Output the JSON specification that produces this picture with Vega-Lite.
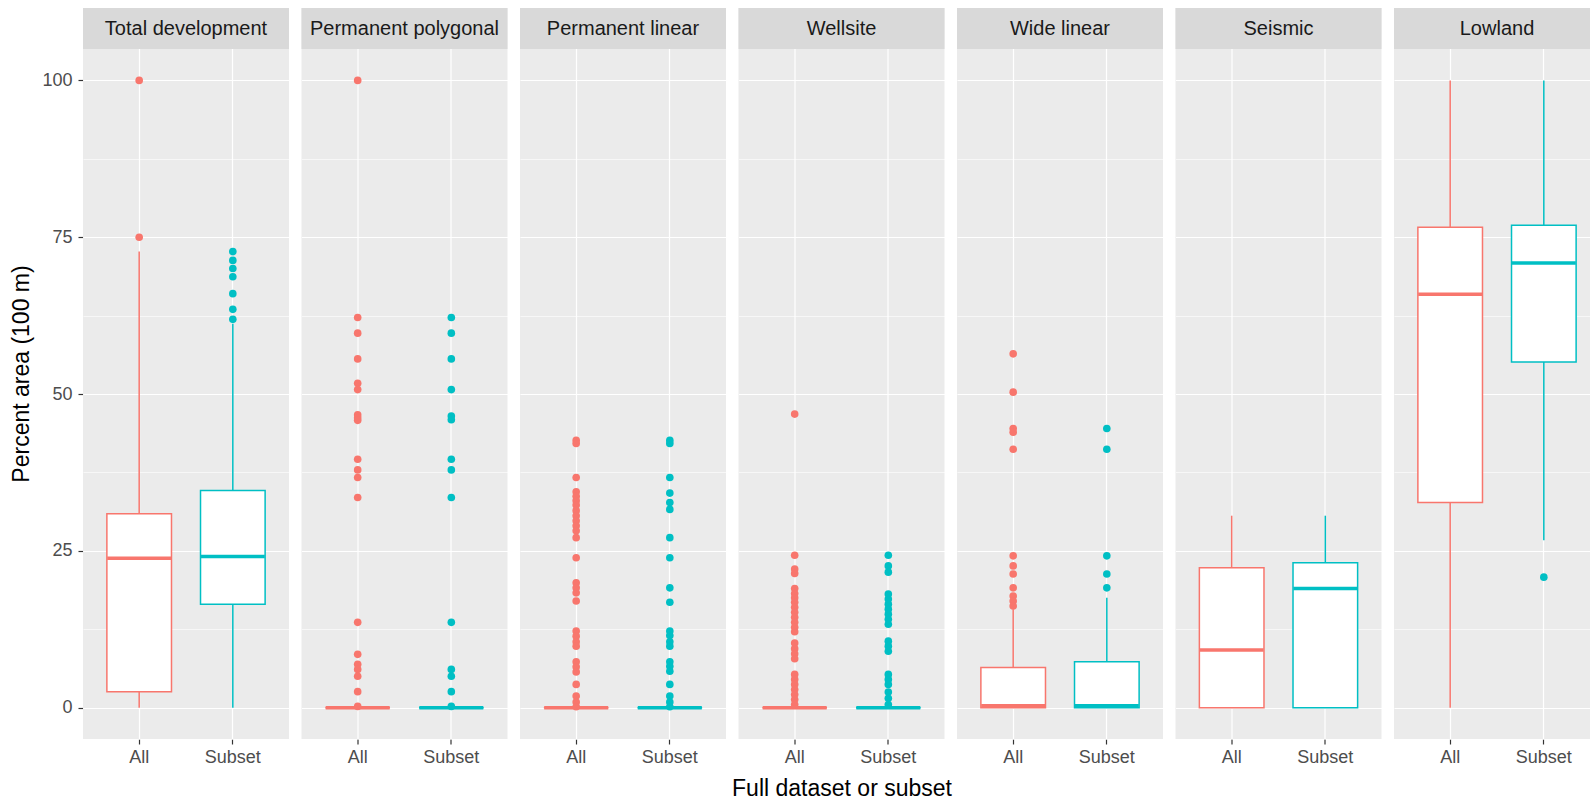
{
  "$schema": "https://vega.github.io/schema/vega-lite/v6.json",
  "padding": {"left": 10, "top": 8, "right": -10, "bottom": 0},
  "background": "white",
  "datasets": {
    "rows": [
      {"panel": "Total development", "group": "All", "kind": "box", "lo": 0, "q1": 2.55, "med": 23.8, "q3": 30.9, "hi": 72.7},
      {"panel": "Total development", "group": "Subset", "kind": "box", "lo": 0, "q1": 16.5, "med": 24.1, "q3": 34.6, "hi": 61.2},
      {"panel": "Permanent polygonal", "group": "All", "kind": "box", "lo": 0, "q1": 0, "med": 0, "q3": 0, "hi": 0},
      {"panel": "Permanent polygonal", "group": "Subset", "kind": "box", "lo": 0, "q1": 0, "med": 0, "q3": 0, "hi": 0},
      {"panel": "Permanent linear", "group": "All", "kind": "box", "lo": 0, "q1": 0, "med": 0, "q3": 0, "hi": 0},
      {"panel": "Permanent linear", "group": "Subset", "kind": "box", "lo": 0, "q1": 0, "med": 0, "q3": 0, "hi": 0},
      {"panel": "Wellsite", "group": "All", "kind": "box", "lo": 0, "q1": 0, "med": 0, "q3": 0, "hi": 0},
      {"panel": "Wellsite", "group": "Subset", "kind": "box", "lo": 0, "q1": 0, "med": 0, "q3": 0, "hi": 0},
      {"panel": "Wide linear", "group": "All", "kind": "box", "lo": 0, "q1": 0, "med": 0.3, "q3": 6.4, "hi": 15.7},
      {"panel": "Wide linear", "group": "Subset", "kind": "box", "lo": 0, "q1": 0, "med": 0.3, "q3": 7.3, "hi": 17.5},
      {"panel": "Seismic", "group": "All", "kind": "box", "lo": 0, "q1": 0, "med": 9.2, "q3": 22.3, "hi": 30.6},
      {"panel": "Seismic", "group": "Subset", "kind": "box", "lo": 0, "q1": 0, "med": 19.0, "q3": 23.1, "hi": 30.6},
      {"panel": "Lowland", "group": "All", "kind": "box", "lo": 0, "q1": 32.7, "med": 65.9, "q3": 76.6, "hi": 100},
      {"panel": "Lowland", "group": "Subset", "kind": "box", "lo": 26.7, "q1": 55.1, "med": 70.9, "q3": 76.9, "hi": 100},

      {"panel": "Total development", "group": "All", "kind": "out", "v": 100},
      {"panel": "Total development", "group": "All", "kind": "out", "v": 75.0},
      {"panel": "Total development", "group": "Subset", "kind": "out", "v": 72.7},
      {"panel": "Total development", "group": "Subset", "kind": "out", "v": 71.3},
      {"panel": "Total development", "group": "Subset", "kind": "out", "v": 70.0},
      {"panel": "Total development", "group": "Subset", "kind": "out", "v": 68.7},
      {"panel": "Total development", "group": "Subset", "kind": "out", "v": 66.0},
      {"panel": "Total development", "group": "Subset", "kind": "out", "v": 63.5},
      {"panel": "Total development", "group": "Subset", "kind": "out", "v": 61.9},

      {"panel": "Permanent polygonal", "group": "All", "kind": "out", "v": 100},
      {"panel": "Permanent polygonal", "group": "All", "kind": "out", "v": 62.2},
      {"panel": "Permanent polygonal", "group": "All", "kind": "out", "v": 59.7},
      {"panel": "Permanent polygonal", "group": "All", "kind": "out", "v": 55.6},
      {"panel": "Permanent polygonal", "group": "All", "kind": "out", "v": 51.7},
      {"panel": "Permanent polygonal", "group": "All", "kind": "out", "v": 50.7},
      {"panel": "Permanent polygonal", "group": "All", "kind": "out", "v": 46.7},
      {"panel": "Permanent polygonal", "group": "All", "kind": "out", "v": 46.2},
      {"panel": "Permanent polygonal", "group": "All", "kind": "out", "v": 45.8},
      {"panel": "Permanent polygonal", "group": "All", "kind": "out", "v": 39.6},
      {"panel": "Permanent polygonal", "group": "All", "kind": "out", "v": 37.9},
      {"panel": "Permanent polygonal", "group": "All", "kind": "out", "v": 36.7},
      {"panel": "Permanent polygonal", "group": "All", "kind": "out", "v": 33.5},
      {"panel": "Permanent polygonal", "group": "All", "kind": "out", "v": 13.6},
      {"panel": "Permanent polygonal", "group": "All", "kind": "out", "v": 8.5},
      {"panel": "Permanent polygonal", "group": "All", "kind": "out", "v": 6.9},
      {"panel": "Permanent polygonal", "group": "All", "kind": "out", "v": 6.1},
      {"panel": "Permanent polygonal", "group": "All", "kind": "out", "v": 5.0},
      {"panel": "Permanent polygonal", "group": "All", "kind": "out", "v": 2.55},
      {"panel": "Permanent polygonal", "group": "All", "kind": "out", "v": 0.2},
      {"panel": "Permanent polygonal", "group": "Subset", "kind": "out", "v": 62.2},
      {"panel": "Permanent polygonal", "group": "Subset", "kind": "out", "v": 59.7},
      {"panel": "Permanent polygonal", "group": "Subset", "kind": "out", "v": 55.6},
      {"panel": "Permanent polygonal", "group": "Subset", "kind": "out", "v": 50.7},
      {"panel": "Permanent polygonal", "group": "Subset", "kind": "out", "v": 46.5},
      {"panel": "Permanent polygonal", "group": "Subset", "kind": "out", "v": 45.9},
      {"panel": "Permanent polygonal", "group": "Subset", "kind": "out", "v": 39.6},
      {"panel": "Permanent polygonal", "group": "Subset", "kind": "out", "v": 37.9},
      {"panel": "Permanent polygonal", "group": "Subset", "kind": "out", "v": 33.5},
      {"panel": "Permanent polygonal", "group": "Subset", "kind": "out", "v": 13.6},
      {"panel": "Permanent polygonal", "group": "Subset", "kind": "out", "v": 6.1},
      {"panel": "Permanent polygonal", "group": "Subset", "kind": "out", "v": 5.0},
      {"panel": "Permanent polygonal", "group": "Subset", "kind": "out", "v": 2.55},
      {"panel": "Permanent polygonal", "group": "Subset", "kind": "out", "v": 0.2},

      {"panel": "Permanent linear", "group": "All", "kind": "out", "v": 42.6},
      {"panel": "Permanent linear", "group": "All", "kind": "out", "v": 42.1},
      {"panel": "Permanent linear", "group": "All", "kind": "out", "v": 36.7},
      {"panel": "Permanent linear", "group": "All", "kind": "out", "v": 34.4},
      {"panel": "Permanent linear", "group": "All", "kind": "out", "v": 33.7},
      {"panel": "Permanent linear", "group": "All", "kind": "out", "v": 33.0},
      {"panel": "Permanent linear", "group": "All", "kind": "out", "v": 32.3},
      {"panel": "Permanent linear", "group": "All", "kind": "out", "v": 31.4},
      {"panel": "Permanent linear", "group": "All", "kind": "out", "v": 30.6},
      {"panel": "Permanent linear", "group": "All", "kind": "out", "v": 29.8},
      {"panel": "Permanent linear", "group": "All", "kind": "out", "v": 29.0},
      {"panel": "Permanent linear", "group": "All", "kind": "out", "v": 28.2},
      {"panel": "Permanent linear", "group": "All", "kind": "out", "v": 27.1},
      {"panel": "Permanent linear", "group": "All", "kind": "out", "v": 23.9},
      {"panel": "Permanent linear", "group": "All", "kind": "out", "v": 19.9},
      {"panel": "Permanent linear", "group": "All", "kind": "out", "v": 19.1},
      {"panel": "Permanent linear", "group": "All", "kind": "out", "v": 18.3},
      {"panel": "Permanent linear", "group": "All", "kind": "out", "v": 17.0},
      {"panel": "Permanent linear", "group": "All", "kind": "out", "v": 12.2},
      {"panel": "Permanent linear", "group": "All", "kind": "out", "v": 11.4},
      {"panel": "Permanent linear", "group": "All", "kind": "out", "v": 10.5},
      {"panel": "Permanent linear", "group": "All", "kind": "out", "v": 9.8},
      {"panel": "Permanent linear", "group": "All", "kind": "out", "v": 7.3},
      {"panel": "Permanent linear", "group": "All", "kind": "out", "v": 6.5},
      {"panel": "Permanent linear", "group": "All", "kind": "out", "v": 5.7},
      {"panel": "Permanent linear", "group": "All", "kind": "out", "v": 3.7},
      {"panel": "Permanent linear", "group": "All", "kind": "out", "v": 1.85},
      {"panel": "Permanent linear", "group": "All", "kind": "out", "v": 0.9},
      {"panel": "Permanent linear", "group": "All", "kind": "out", "v": 0.15},
      {"panel": "Permanent linear", "group": "Subset", "kind": "out", "v": 42.6},
      {"panel": "Permanent linear", "group": "Subset", "kind": "out", "v": 42.1},
      {"panel": "Permanent linear", "group": "Subset", "kind": "out", "v": 36.7},
      {"panel": "Permanent linear", "group": "Subset", "kind": "out", "v": 34.2},
      {"panel": "Permanent linear", "group": "Subset", "kind": "out", "v": 32.7},
      {"panel": "Permanent linear", "group": "Subset", "kind": "out", "v": 31.6},
      {"panel": "Permanent linear", "group": "Subset", "kind": "out", "v": 27.1},
      {"panel": "Permanent linear", "group": "Subset", "kind": "out", "v": 23.9},
      {"panel": "Permanent linear", "group": "Subset", "kind": "out", "v": 19.1},
      {"panel": "Permanent linear", "group": "Subset", "kind": "out", "v": 16.8},
      {"panel": "Permanent linear", "group": "Subset", "kind": "out", "v": 12.2},
      {"panel": "Permanent linear", "group": "Subset", "kind": "out", "v": 11.5},
      {"panel": "Permanent linear", "group": "Subset", "kind": "out", "v": 10.5},
      {"panel": "Permanent linear", "group": "Subset", "kind": "out", "v": 9.8},
      {"panel": "Permanent linear", "group": "Subset", "kind": "out", "v": 7.3},
      {"panel": "Permanent linear", "group": "Subset", "kind": "out", "v": 6.6},
      {"panel": "Permanent linear", "group": "Subset", "kind": "out", "v": 5.8},
      {"panel": "Permanent linear", "group": "Subset", "kind": "out", "v": 3.7},
      {"panel": "Permanent linear", "group": "Subset", "kind": "out", "v": 1.85},
      {"panel": "Permanent linear", "group": "Subset", "kind": "out", "v": 0.9},
      {"panel": "Permanent linear", "group": "Subset", "kind": "out", "v": 0.15},

      {"panel": "Wellsite", "group": "All", "kind": "out", "v": 46.8},
      {"panel": "Wellsite", "group": "All", "kind": "out", "v": 24.3},
      {"panel": "Wellsite", "group": "All", "kind": "out", "v": 22.1},
      {"panel": "Wellsite", "group": "All", "kind": "out", "v": 21.4},
      {"panel": "Wellsite", "group": "All", "kind": "out", "v": 19.0},
      {"panel": "Wellsite", "group": "All", "kind": "out", "v": 18.2},
      {"panel": "Wellsite", "group": "All", "kind": "out", "v": 17.5},
      {"panel": "Wellsite", "group": "All", "kind": "out", "v": 16.8},
      {"panel": "Wellsite", "group": "All", "kind": "out", "v": 16.0},
      {"panel": "Wellsite", "group": "All", "kind": "out", "v": 15.2},
      {"panel": "Wellsite", "group": "All", "kind": "out", "v": 14.4},
      {"panel": "Wellsite", "group": "All", "kind": "out", "v": 13.6},
      {"panel": "Wellsite", "group": "All", "kind": "out", "v": 12.8},
      {"panel": "Wellsite", "group": "All", "kind": "out", "v": 12.1},
      {"panel": "Wellsite", "group": "All", "kind": "out", "v": 10.3},
      {"panel": "Wellsite", "group": "All", "kind": "out", "v": 9.4},
      {"panel": "Wellsite", "group": "All", "kind": "out", "v": 8.6},
      {"panel": "Wellsite", "group": "All", "kind": "out", "v": 7.8},
      {"panel": "Wellsite", "group": "All", "kind": "out", "v": 5.3},
      {"panel": "Wellsite", "group": "All", "kind": "out", "v": 4.5},
      {"panel": "Wellsite", "group": "All", "kind": "out", "v": 3.7},
      {"panel": "Wellsite", "group": "All", "kind": "out", "v": 2.9},
      {"panel": "Wellsite", "group": "All", "kind": "out", "v": 2.1},
      {"panel": "Wellsite", "group": "All", "kind": "out", "v": 1.3},
      {"panel": "Wellsite", "group": "All", "kind": "out", "v": 0.5},
      {"panel": "Wellsite", "group": "Subset", "kind": "out", "v": 24.3},
      {"panel": "Wellsite", "group": "Subset", "kind": "out", "v": 22.6},
      {"panel": "Wellsite", "group": "Subset", "kind": "out", "v": 21.6},
      {"panel": "Wellsite", "group": "Subset", "kind": "out", "v": 18.1},
      {"panel": "Wellsite", "group": "Subset", "kind": "out", "v": 17.3},
      {"panel": "Wellsite", "group": "Subset", "kind": "out", "v": 16.5},
      {"panel": "Wellsite", "group": "Subset", "kind": "out", "v": 15.7},
      {"panel": "Wellsite", "group": "Subset", "kind": "out", "v": 14.9},
      {"panel": "Wellsite", "group": "Subset", "kind": "out", "v": 14.1},
      {"panel": "Wellsite", "group": "Subset", "kind": "out", "v": 13.3},
      {"panel": "Wellsite", "group": "Subset", "kind": "out", "v": 10.6},
      {"panel": "Wellsite", "group": "Subset", "kind": "out", "v": 9.8},
      {"panel": "Wellsite", "group": "Subset", "kind": "out", "v": 9.0},
      {"panel": "Wellsite", "group": "Subset", "kind": "out", "v": 5.3},
      {"panel": "Wellsite", "group": "Subset", "kind": "out", "v": 4.5},
      {"panel": "Wellsite", "group": "Subset", "kind": "out", "v": 3.7},
      {"panel": "Wellsite", "group": "Subset", "kind": "out", "v": 2.5},
      {"panel": "Wellsite", "group": "Subset", "kind": "out", "v": 1.5},
      {"panel": "Wellsite", "group": "Subset", "kind": "out", "v": 0.5},

      {"panel": "Wide linear", "group": "All", "kind": "out", "v": 56.4},
      {"panel": "Wide linear", "group": "All", "kind": "out", "v": 50.3},
      {"panel": "Wide linear", "group": "All", "kind": "out", "v": 44.5},
      {"panel": "Wide linear", "group": "All", "kind": "out", "v": 43.9},
      {"panel": "Wide linear", "group": "All", "kind": "out", "v": 41.2},
      {"panel": "Wide linear", "group": "All", "kind": "out", "v": 24.2},
      {"panel": "Wide linear", "group": "All", "kind": "out", "v": 22.6},
      {"panel": "Wide linear", "group": "All", "kind": "out", "v": 21.3},
      {"panel": "Wide linear", "group": "All", "kind": "out", "v": 19.1},
      {"panel": "Wide linear", "group": "All", "kind": "out", "v": 17.8},
      {"panel": "Wide linear", "group": "All", "kind": "out", "v": 17.0},
      {"panel": "Wide linear", "group": "All", "kind": "out", "v": 16.2},
      {"panel": "Wide linear", "group": "Subset", "kind": "out", "v": 44.5},
      {"panel": "Wide linear", "group": "Subset", "kind": "out", "v": 41.2},
      {"panel": "Wide linear", "group": "Subset", "kind": "out", "v": 24.2},
      {"panel": "Wide linear", "group": "Subset", "kind": "out", "v": 21.3},
      {"panel": "Wide linear", "group": "Subset", "kind": "out", "v": 19.1},

      {"panel": "Lowland", "group": "Subset", "kind": "out", "v": 20.8}
    ]
  },
  "data": {"name": "rows"},
  "facet": {
    "column": {
      "field": "panel",
      "type": "nominal",
      "sort": ["Total development", "Permanent polygonal", "Permanent linear", "Wellsite", "Wide linear", "Seismic", "Lowland"],
      "title": "Full dataset or subset",
      "header": {"labels": false, "titleOrient": "bottom", "titleFontSize": 23, "titleFontWeight": "normal", "titleColor": "#000000", "titlePadding": 2, "titleAnchor": "middle"}
    }
  },
  "spacing": 12.5,
  "spec": {
    "width": 206,
    "height": 731,
    "layer": [
      {
        "transform": [{"filter": "datum.kind === 'box' && datum.group === 'All'"}],
        "mark": {"type": "rect", "fill": "#D9D9D9"},
        "encoding": {
          "x": {"value": 0},
          "x2": {"value": "width"},
          "y": {"datum": 105, "type": "quantitative", "scale": {"domain": [-5, 111.54], "nice": false, "zero": false}},
          "y2": {"datum": 111.54}
        }
      },
      {
        "transform": [{"filter": "datum.kind === 'box' && datum.group === 'All'"}],
        "mark": {"type": "text", "x": {"expr": "child_width/2"}, "align": "center", "baseline": "middle", "fontSize": 20, "color": "#1A1A1A", "font": "Liberation Sans"},
        "encoding": {
          "y": {"datum": 108.27, "type": "quantitative"},
          "text": {"field": "panel", "type": "nominal"}
        }
      },
      {
        "transform": [{"filter": "datum.kind === 'box'"}],
        "mark": {"type": "rule", "strokeWidth": 1.5},
        "encoding": {
          "x": {"field": "group", "type": "nominal", "scale": {"type": "band", "domain": ["All", "Subset"], "paddingInner": 0.31, "paddingOuter": 0.255},
            "axis": {"title": null, "domain": false, "grid": true, "gridColor": "white", "gridWidth": 1.2, "bandPosition": 0.5, "tickColor": "#333333", "tickSize": 5, "tickWidth": 1.2, "labelColor": "#4D4D4D", "labelFontSize": 18, "labelPadding": 4, "labelAngle": 0}},
          "y": {"field": "lo", "type": "quantitative",
            "axis": {"title": "Percent area (100 m)", "values": [0, 12.5, 25, 37.5, 50, 62.5, 75, 87.5, 100], "grid": true, "gridColor": "white",
              "gridWidth": {"condition": {"test": "datum.value % 25 !== 0", "value": 0.6}, "value": 1.2},
              "tickOpacity": {"condition": {"test": "datum.value % 25 !== 0", "value": 0}, "value": 1},
              "labelExpr": "datum.value % 25 === 0 ? datum.label : ''",
              "domain": false, "tickColor": "#333333", "tickSize": 5, "tickWidth": 1.2, "labelColor": "#4D4D4D", "labelFontSize": 18, "labelPadding": 6,
              "titleFontSize": 23, "titleColor": "#000000", "titleFontWeight": "normal", "titlePadding": 8}},
          "y2": {"field": "hi"},
          "color": {"field": "group", "type": "nominal", "scale": {"domain": ["All", "Subset"], "range": ["#F8766D", "#00BFC4"]}, "legend": null}
        }
      },
      {
        "transform": [{"filter": "datum.kind === 'box'"}],
        "mark": {"type": "bar", "fill": "white", "strokeWidth": 1.5},
        "encoding": {
          "x": {"field": "group", "type": "nominal"},
          "y": {"field": "q1", "type": "quantitative"},
          "y2": {"field": "q3"},
          "stroke": {"field": "group", "type": "nominal", "scale": {"domain": ["All", "Subset"], "range": ["#F8766D", "#00BFC4"]}, "legend": null}
        }
      },
      {
        "transform": [{"filter": "datum.kind === 'box'"}],
        "mark": {"type": "tick", "thickness": 3.5, "size": 64, "opacity": 1},
        "encoding": {
          "x": {"field": "group", "type": "nominal"},
          "y": {"field": "med", "type": "quantitative"},
          "color": {"field": "group", "type": "nominal", "legend": null}
        }
      },
      {
        "transform": [{"filter": "datum.kind === 'out'"}],
        "mark": {"type": "circle", "size": 58, "opacity": 1},
        "encoding": {
          "x": {"field": "group", "type": "nominal"},
          "y": {"field": "v", "type": "quantitative"},
          "color": {"field": "group", "type": "nominal", "legend": null}
        }
      }
    ]
  },
  "config": {
    "font": "Liberation Sans",
    "view": {"fill": "#EBEBEB", "stroke": null}
  }
}
